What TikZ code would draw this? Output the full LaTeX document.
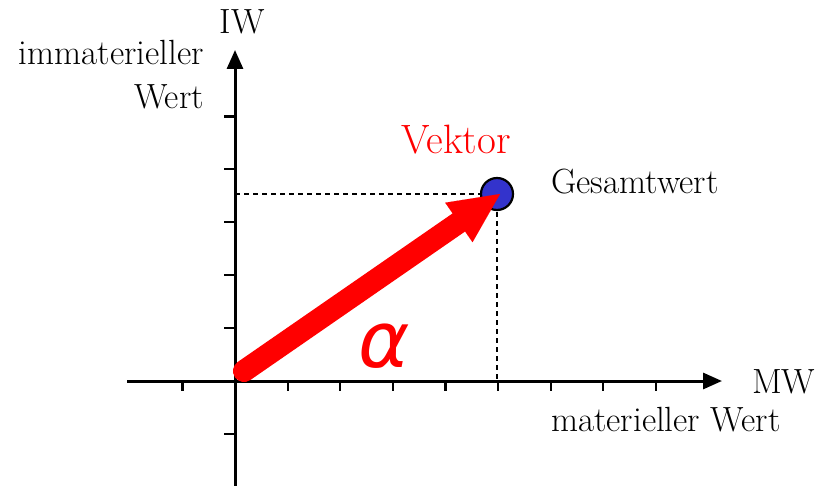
\documentclass[tikz,border=0pt]{standalone}
\usepackage{fontspec}
\usetikzlibrary{arrows.meta}
\newfontfamily\alphafont{DejaVu Sans}
\definecolor{dotblue}{RGB}{51,51,204}
\tikzset{
  axis/.style={line width=3pt,-{Triangle[length=19pt,width=16pt]}},
  tick/.style={line width=2.2pt},
  guide/.style={line width=2pt,dash pattern=on 5pt off 4pt},
  lbl/.style={font=\fontsize{35}{40}\selectfont,inner sep=0pt},
}
\begin{document}
\begin{tikzpicture}[x=1pt,y=-1pt]
\useasboundingbox (0,0) rectangle (816,486);
\coordinate (O) at (235,381);
\coordinate (xs) at (127,381);
\coordinate (xe) at (722,381);
\coordinate (ys) at (235,486);
\coordinate (ye) at (235,50);
\coordinate (P) at (497,194);
\coordinate (Px) at (497,381);
\coordinate (Py) at (235,194);
\coordinate (As) at (244,371);
\coordinate (Ae) at (500,194);
% ticks
\foreach \i in {-1,1,2,3,4,5,6,7,8} \draw[tick] (235+\i*52.6,381) -- ++(0,10);
\foreach \j in {-1,1,2,3,4,5} \draw[tick] (235,381-\j*52.9) -- ++(-11,0);
% axes
\draw[axis] (xs) -- (xe);
\draw[axis] (ys) -- (ye);
% guides
\draw[guide] (Py) -- (P);
\draw[guide] (P) -- (Px);
% point
\node[circle,draw=black,line width=2.2pt,fill=dotblue,minimum size=32pt,inner sep=0pt] (pt) at (P) {};
% vector
\draw[red,line width=22pt,line cap=round,-{Triangle[length=50pt,width=48pt,line width=0.01pt]}] (As) -- (Ae);
% labels
\node[lbl] (IW) at (242,22) {IW};
\node[lbl,anchor=east] (imw1) at (204,52) {immaterieller};
\node[lbl,anchor=east] (imw2) at (204,97) {Wert};
\node[lbl,text=red,font=\fontsize{41}{46}\selectfont] (vek) at (456,140) {Vektor};
\node[lbl,anchor=west] (ges) at (551,182) {Gesamtwert};
\node[lbl,anchor=west] (MW) at (752,382) {MW};
\node[lbl,anchor=west] (mw) at (551,420) {materieller Wert};
\node[text=red,inner sep=0pt,font=\alphafont\itshape\fontsize{78}{80}\selectfont] (alpha) at (384,346) {α};
\end{tikzpicture}
\end{document}
